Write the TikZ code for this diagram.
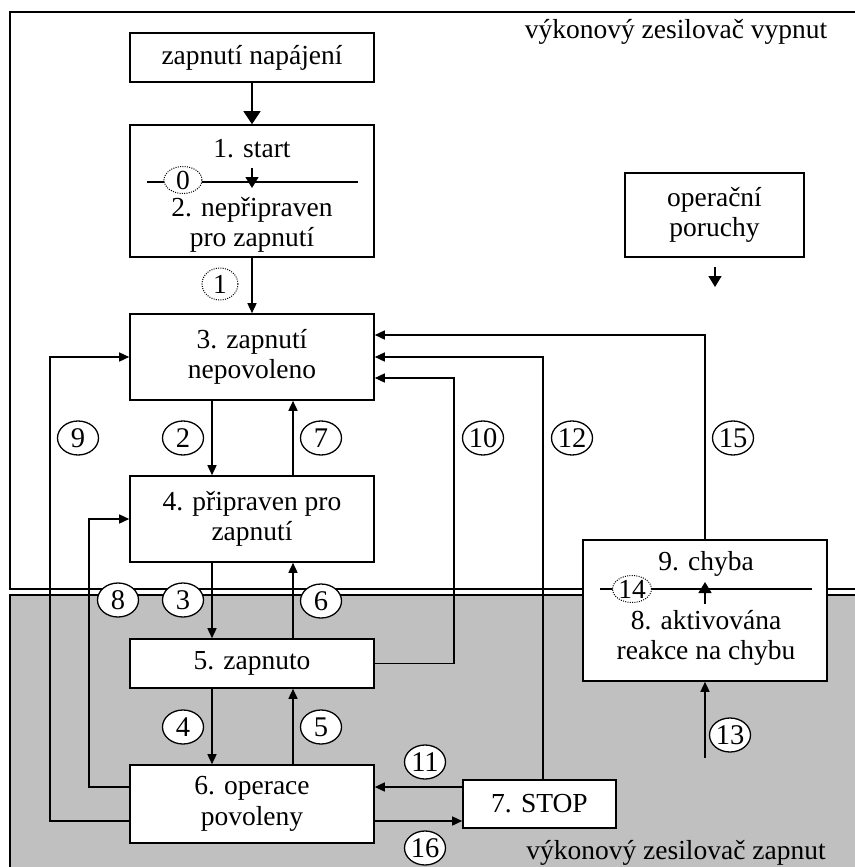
\documentclass[tikz,border=0pt]{standalone}
\usepackage{fontspec}
\setmainfont{Liberation Serif}
\usetikzlibrary{arrows.meta,shapes.geometric,calc}
\definecolor{onzone}{RGB}{192,192,192}
\newcommand\diagfont{\fontsize{27.5}{30.5}\selectfont}
\newcommand\tagfont{\fontsize{28.5}{30}\selectfont}
\begin{document}
\begin{tikzpicture}[x=1pt,y=-1pt,
  stbox/.style={draw, fill=white, line width=1.6pt, align=center, inner sep=0pt, font=\diagfont},
  lbl/.style={align=center, inner sep=0pt, font=\diagfont},
  tag/.style={ellipse, draw, fill=white, line width=1.3pt, minimum width=41pt, minimum height=34pt, inner sep=0pt, font=\tagfont},
  dtag/.style={tag, line width=1pt, dash pattern=on 1pt off 1.3pt, minimum width=38pt, minimum height=27pt, font=\diagfont},
  arr/.style={-{Triangle[length=10pt,width=9pt]}, line width=1.5pt},
  bigarr/.style={-{Triangle[length=13pt,width=17pt]}, line width=1.5pt},
  midarr/.style={-{Triangle[length=11pt,width=13pt]}, line width=1.5pt},
  line/.style={line width=1.5pt}]
\useasboundingbox (0,0) rectangle (854,867);
\fill[white] (0,0) rectangle (854,867);

% zones: amplifier off (top) and amplifier on (bottom, grey)
\draw[line width=1.6pt] (10,12) rectangle (900,589);
\draw[line width=1.6pt, fill=onzone] (10,595) rectangle (900,900);
\node[lbl] (offlbl) at (676,32) {výkonový zesilovač vypnut};
\node[lbl] (onlbl) at (676,853) {výkonový zesilovač zapnut};

% states
\node[stbox, minimum width=244pt, minimum height=49pt] (pwr) at (252,57.5) {zapnutí napájení};
\node[stbox, minimum width=244pt, minimum height=132pt] (init) at (252,191) {};
\node[stbox, minimum width=244pt, minimum height=86pt] (s3) at (252,357) {3. zapnutí\\nepovoleno};
\node[stbox, minimum width=244pt, minimum height=86pt] (s4) at (252,519) {4. připraven pro\\zapnutí};
\node[stbox, minimum width=244pt, minimum height=49pt] (s5) at (252,663.5) {5. zapnuto};
\node[stbox, minimum width=244pt, minimum height=78pt] (s6) at (252,804) {6. operace\\povoleny};
\node[stbox, minimum width=153pt, minimum height=48pt] (stop) at (539.5,804) {7. STOP};
\node[stbox, minimum width=179pt, minimum height=84pt] (opf) at (714.5,215) {operační\\poruchy};
\node[stbox, minimum width=244pt, minimum height=141pt] (fault) at (705,610.5) {};

% states 1/2 inside one box
\node[lbl] (t1) at (252,149) {1. start};
\node[lbl] (t2) at (252,225) {2. nepřipraven\\pro zapnutí};
\coordinate (d1l) at (147,182);
\coordinate (d1r) at (358,182);
\draw[line] (d1l) -- (d1r);
\coordinate (a0s) at (252,168);
\coordinate (a0e) at (252,188);
\draw[midarr] (a0s) -- (a0e);
\node[dtag] (c0) at (183,180) {0};

% states 9/8 inside one box
\node[lbl] (t9) at (706,564) {9. chyba};
\node[lbl] (t8) at (706,638) {8. aktivována\\reakce na chybu};
\coordinate (d2l) at (600,589);
\coordinate (d2r) at (812,589);
\draw[line] (d2l) -- (d2r);
\coordinate (a14s) at (705,604);
\coordinate (a14e) at (705,582);
\draw[midarr] (a14s) -- (a14e);
\node[dtag] (c14) at (632,589) {14};

% operational faults
\coordinate (opfs) at (715,267);
\coordinate (opfe) at (715,287);
\draw[midarr] (opfs) -- (opfe);

% transitions
\draw[bigarr] (pwr) -- (init);
\draw[arr] (init) -- (s3);
\node[dtag, minimum height=32pt, minimum width=36pt] (c1) at (220,284) {1};

\draw[arr] ([xshift=-40pt]s3.south) -- ([xshift=-40pt]s4.north);
\draw[arr] ([xshift=41pt]s4.north) -- ([xshift=41pt]s3.south);
\draw[arr] ([xshift=-40pt]s4.south) -- ([xshift=-40pt]s5.north);
\draw[arr] ([xshift=41pt]s5.north) -- ([xshift=41pt]s4.south);
\draw[arr] ([xshift=-40pt]s5.south) -- ([xshift=-40pt]s6.north);
\draw[arr] ([xshift=41pt]s6.north) -- ([xshift=41pt]s5.south);

\draw[arr] ([yshift=-17pt]s6.west) -| (50,400) |- (s3.west);
\draw[arr] ([yshift=17pt]s6.west) -| (89,560) |- (s4.west);
\draw[arr] (s5.east) -| (454,500) |- ([yshift=-21pt]s3.east);
\draw[arr] ([yshift=17pt]stop.west) -- ([yshift=17pt]s6.east);
\draw[arr] ([yshift=-17pt]s6.east) -- ([yshift=-17pt]stop.west);
\draw[arr] ([xshift=3.5pt]stop.north) |- (s3.east);
\draw[arr] (fault.north) |- ([yshift=22pt]s3.east);
\coordinate (e13) at (705,758);
\draw[arr] (e13) -- (fault.south);

% transition numbers
\node[tag] (c2) at (183,438) {2};
\node[tag] (c7) at (321,438) {7};
\node[tag] (c9) at (78,438) {9};
\node[tag] (c10) at (483,438) {10};
\node[tag] (c12) at (572,438) {12};
\node[tag] (c15) at (733,438) {15};
\node[tag] (c8) at (118,600) {8};
\node[tag] (c3) at (183,600) {3};
\node[tag] (c6) at (321,601) {6};
\node[tag] (c4) at (183,727) {4};
\node[tag] (c5) at (321,727) {5};
\node[tag] (c11) at (425,762) {11};
\node[tag] (c16) at (425,848) {16};
\node[tag] (c13) at (730,735) {13};
\end{tikzpicture}
\end{document}
